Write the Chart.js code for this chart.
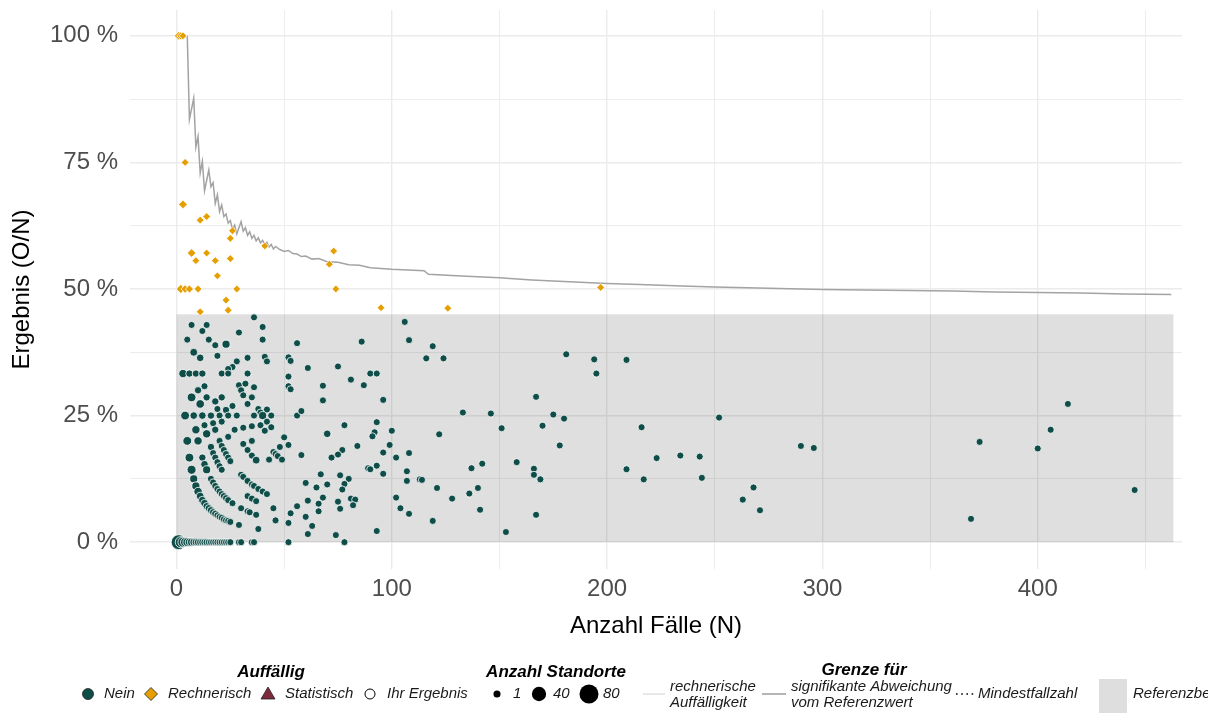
<!DOCTYPE html>
<html>
<head>
<meta charset="utf-8">
<script src="https://cdn.jsdelivr.net/npm/chart.js@4/dist/chart.umd.min.js"></script>
<style>
  html, body { margin: 0; padding: 0; background: #fff; }
  #c { display: block; }
</style>
</head>
<body>
<canvas id="c" width="1208" height="713"></canvas>
<script>
// --- Standorte ohne Auffälligkeit: Fälle (N), Ergebnis in %, Anzahl Standorte
const neinN = [
  1,2,3,4,5,6,7,8,9,10,11,12,13,14,15,16,17,18,19,20,21,22,23,24,25,29,30,35,36,52,78,
  4,5,6,7,8,9,10,11,12,13,14,15,16,17,18,19,20,21,22,23,24,25,29,38,3,
  6,7,8,9,10,12,13,14,16,17,18,19,20,21,22,23,24,26,30,33,34,37,46,52,
  8,9,10,11,12,13,14,16,17,18,19,20,21,33,35,37,45,53,
  16,17,18,20,21,22,23,24,25,30,31,33,35,36,38,40,42,56,
  36,7,14,12,40,29,5,15,18,23,40,56,11,19,28,33,41,42,52,53,26,24,12,21,24,33,52,61,
  29,32,36,52,53,13,14,18,21,30,31,33,35,19,23,26,38,39,42,20,24,28,36,40,44,56,
  21,27,31,35,39,41,42,44,24,31,33,35,37,35,43,45,46,47,49,48,50,52,
  106,108,86,119,116,124,75,90,93,81,87,68,68,96,58,133,146,93,78,70,100,92,91,122,
  84,99,77,75,72,58,96,108,102,93,89,90,96,107,107,113,114,137,142,67,76,80,78,77,
  60,65,70,68,61,66,75,76,81,83,82,66,60,63,61,74,93,102,104,108,119,128,136,140,141,121,
  181,194,195,209,167,151,175,180,170,178,216,252,158,166,166,169,167,153,209,217,223,234,243,244,268,263,271,290,296,
  414,406,373,400,445,369
];
const neinP = [
  0,0,0,0,0,0,0,0,0,0,0,0,0,0,0,0,0,0,0,0,0,0,0,0,0,0,0,0,0,0,0,
  25,20,16.7,14.3,12.5,11.1,10,9.1,8.3,7.7,7.1,6.7,6.3,5.9,5.6,5.3,5,4.8,4.5,4.3,4.2,4,3.4,2.6,33.3,
  33.3,28.6,25,22.2,20,16.7,15.4,14.3,12.5,11.8,11.1,10.5,10,9.5,9.1,8.7,8.3,7.7,6.7,6.1,5.9,5.4,4.3,3.8,
  37.5,33.3,30,27.3,25,23.1,21.4,18.8,17.6,16.7,15.8,15,14.3,9.1,8.6,8.1,6.7,5.7,
  25,23.5,22.2,20,19,18.2,17.4,16.7,16,13.3,12.9,12.1,11.4,11.1,10.5,10,9.5,7.1,
  44.4,42.9,42.9,41.7,42.5,41.4,40,40,38.9,39.1,40,39.3,36.4,36.8,35.7,36.4,36.6,35.7,36.5,35.8,34.6,34.2,33.3,33.3,33.3,33.3,32.7,34.4,
  31,31.3,30.6,30.8,30.2,30.8,28.6,27.8,28.6,30,29,27.3,28.6,26.3,26.1,26.9,26.3,25.6,26.2,25,25,25,25,25,25,25,
  23.8,22.2,22.6,22.9,23.1,22,23.8,22.7,20.8,19.4,18.2,17.1,16.2,20,16.3,17.8,17.4,17,16.3,18.8,20.7,19.2,
  43.5,39.9,39.6,38.7,36.3,36.3,34.7,33.3,33.3,32.1,31,30.9,28,28.1,25.9,25.6,25.4,23.7,23.1,21.4,22,21.7,20.9,21.3,
  19,19.2,18.2,17.3,16.7,17.2,17.7,17.6,16.7,15.1,14.6,14.4,13.5,14,12.1,12.4,12.3,14.6,15.5,13.4,13.2,12.5,11.5,10.4,
  11.7,10.8,11.4,8.8,8.2,7.6,8,6.6,8.6,8.4,7.3,6.1,5,3.2,1.6,1.4,2.2,8.8,6.7,5.6,4.2,8.6,9.6,10.7,6.4,10.7,
  37.1,36.1,33.3,36,28.7,22.5,25.2,24.4,23,19.1,22.7,24.6,15.8,14.5,13.3,12.4,5.4,2,14.4,12.4,16.6,17.1,16.9,12.7,10.8,8.4,6.3,19,18.6,
  27.3,22.2,19.8,18.5,10.3,4.6
];
const neinCount = [
  45,20,14,10,8,6,5,4,3,3,2,2,2,2,1,1,1,1,1,1,1,1,1,1,1,1,1,1,1,1,1,
  8,8,8,9,5,5,6,4,3,3,2,2,2,2,2,1,1,1,1,1,1,1,1,1,6,
  2,8,3,6,6,2,3,5,1,1,1,1,1,1,1,1,1,1,1,1,1,1,1,1,
  4,2,2,7,3,1,6,2,1,1,1,1,1,1,1,1,1,1,
  2,1,2,1,1,1,1,1,1,1,1,1,1,1,1,1,1,1,
  1,1,1,1,1,1,1,1,1,5,1,1,3,1,1,1,1,1,1,1,1,1,2,1,1,1,1,1,
  1,1,1,1,1,1,2,2,2,1,1,1,1,1,2,1,1,1,1,1,1,1,1,5,1,1,
  1,1,1,1,1,1,1,1,1,1,1,1,4,1,1,1,1,1,1,1,1,1,
  1,1,1,1,1,1,1,1,1,1,1,1,1,1,1,1,1,1,1,3,1,1,1,1,
  1,1,1,1,1,1,1,1,1,1,1,1,1,1,1,1,1,1,1,1,1,1,1,1,
  1,1,1,1,1,1,1,1,1,1,1,1,1,1,1,1,1,1,1,1,1,1,1,1,1,1,
  1,1,1,1,1,1,1,1,1,1,1,1,1,1,1,1,1,1,1,1,1,1,1,1,1,1,1,1,1,
  1,1,1,1,1,1
];

// --- rechnerisch auffällige Standorte
const rechN = [1,2,3,4,3,11,14,26,25,41,73,71,74,7,14,9,18,25,19,2,4,6,10,28,23,11,24,95,126,197];
const rechP = [100,100,100,75,66.7,63.6,64.3,61.5,60,58.5,57.5,54.9,50,57.1,57.1,55.6,55.6,56,52.6,50,50,50,50,50,47.8,45.5,45.8,46.3,46.2,50.3];
const rechCount = [4,2,1,1,4,1,1,1,1,1,1,1,1,4,1,1,1,1,1,6,3,2,1,1,1,1,1,1,1,1];

// --- Grenze für signifikante Abweichung vom Referenzwert
const grenzeN = [5,6,8,9,10,11,12,13,15,16,17,18,19,20,21,22,23,24,25,26,27,28,30,31,32,33,34,35,36,37,38,39,40,41,42,43,44,45,46,48,50,52,54,56,58,60,63,66,70,75,80,85,90,100,110,115,117,130,150,165,180,200,215,235,250,270,300,320,340,360,380,400,420,440,462];
const grenzeP = [100,83.5,87.7,78,80.1,72.9,75.2,69.4,73.5,70.2,71,66.9,68.6,65.3,66.6,64.3,64.8,63,63.5,61.8,62.6,60.9,63.3,61.4,62.1,60.6,61.3,60,60.6,59.5,60.1,59.1,59.6,58.7,59.2,58.3,58.8,57.9,58.4,57.8,57.4,57.6,57,56.9,56.4,56.5,55.9,56,55.4,55.3,54.8,54.7,54.2,53.9,53.7,53.6,52.9,52.6,52.2,51.8,51.5,51.1,50.9,50.6,50.4,50.2,49.9,49.8,49.7,49.6,49.4,49.3,49.2,49.0,48.9];

// --- Referenzbereich und Achsen
const refBereich = [0, 45];
const refFaelle = [0, 463];
const xTicks = [0, 50, 100, 150, 200, 250, 300, 350, 400, 450];
const yTicks = [0, 12.5, 25, 37.5, 50, 62.5, 75, 87.5, 100];

const GREEN = '#0f4d49';
const ORANGE = '#e69f00';
const FONT = '"Liberation Sans", Arial, Helvetica, sans-serif';

function sizeToRadius(n) {
  return Math.sqrt(50 + 311 * (n - 1) / 79) / 2;
}

const refRect = {
  id: 'refRect',
  beforeDatasetsDraw(chart) {
    const { ctx, scales: { x, y } } = chart;
    const x0 = x.getPixelForValue(refFaelle[0]);
    const x1 = x.getPixelForValue(refFaelle[1]);
    const y0 = y.getPixelForValue(refBereich[1]);
    const y1 = y.getPixelForValue(refBereich[0]);
    ctx.save();
    ctx.fillStyle = 'rgba(0,0,0,0.125)';
    ctx.fillRect(x0, y0, x1 - x0, y1 - y0);
    ctx.restore();
  }
};

const legendBlock = {
  id: 'legendBlock',
  afterDraw(chart) {
    const ctx = chart.ctx;
    const y = 694;
    ctx.save();
    ctx.textBaseline = 'middle';
    ctx.fillStyle = '#000';
    ctx.font = 'italic bold 17px ' + FONT;
    ctx.textAlign = 'center';
    ctx.fillText('Auffällig', 271, 672);
    ctx.fillText('Anzahl Standorte', 556, 672);
    ctx.fillText('Grenze für', 864, 670);

    // Auffällig
    ctx.lineWidth = 0.8;
    ctx.strokeStyle = '#222';
    ctx.beginPath(); ctx.arc(88, y, 5.5, 0, Math.PI * 2);
    ctx.fillStyle = GREEN; ctx.fill(); ctx.stroke();

    ctx.beginPath();
    ctx.moveTo(151, y - 6.5); ctx.lineTo(157.5, y); ctx.lineTo(151, y + 6.5); ctx.lineTo(144.5, y);
    ctx.closePath(); ctx.fillStyle = ORANGE; ctx.fill(); ctx.stroke();

    ctx.beginPath();
    ctx.moveTo(268, y - 7); ctx.lineTo(275, y + 5); ctx.lineTo(261, y + 5);
    ctx.closePath(); ctx.fillStyle = '#7d2b3c'; ctx.fill(); ctx.stroke();

    ctx.beginPath(); ctx.arc(370, y, 5, 0, Math.PI * 2);
    ctx.fillStyle = '#fff'; ctx.fill(); ctx.lineWidth = 1; ctx.strokeStyle = '#000'; ctx.stroke();

    ctx.fillStyle = '#1a1a1a';
    ctx.font = 'italic 15px ' + FONT;
    ctx.textAlign = 'left';
    ctx.fillText('Nein', 104, y);
    ctx.fillText('Rechnerisch', 168, y);
    ctx.fillText('Statistisch', 285, y);
    ctx.fillText('Ihr Ergebnis', 387, y);

    // Anzahl Standorte
    ctx.fillStyle = '#000';
    [[497, 1], [539, 40], [589, 80]].forEach(([px, n]) => {
      ctx.beginPath(); ctx.arc(px, y, sizeToRadius(n), 0, Math.PI * 2); ctx.fill();
    });
    ctx.fillStyle = '#1a1a1a';
    ctx.fillText('1', 513, y);
    ctx.fillText('40', 553, y);
    ctx.fillText('80', 603, y);

    // Grenze für
    ctx.lineWidth = 1.6;
    ctx.strokeStyle = '#e2e2e2';
    ctx.beginPath(); ctx.moveTo(643, y); ctx.lineTo(665, y); ctx.stroke();
    ctx.strokeStyle = '#a3a3a3';
    ctx.beginPath(); ctx.moveTo(762, y); ctx.lineTo(786, y); ctx.stroke();
    ctx.strokeStyle = '#000';
    ctx.setLineDash([1.6, 3.6]);
    ctx.beginPath(); ctx.moveTo(956, y); ctx.lineTo(975, y); ctx.stroke();
    ctx.setLineDash([]);

    ctx.fillText('rechnerische', 670, 687);
    ctx.fillText('Auffälligkeit', 670, 703);
    ctx.fillText('signifikante Abweichung', 791, 687);
    ctx.fillText('vom Referenzwert', 791, 703);
    ctx.fillText('Mindestfallzahl', 978, y);

    ctx.fillStyle = '#dedede';
    ctx.fillRect(1099, 679, 28, 40);
    ctx.fillStyle = '#1a1a1a';
    ctx.fillText('Referenzbereich', 1133, y);
    ctx.restore();
  }
};

const neinData = neinN.map((n, i) => ({ x: n, y: neinP[i] }));
const rechData = rechN.map((n, i) => ({ x: n, y: rechP[i] }));
const grenzeData = grenzeN.map((n, i) => ({ x: n, y: grenzeP[i] }));

const gridColor = '#ebebeb';

new Chart(document.getElementById('c'), {
  type: 'scatter',
  data: {
    datasets: [
      {
        label: 'signifikante Abweichung',
        data: grenzeData,
        showLine: true,
        borderColor: '#a3a3a3',
        borderWidth: 1.5,
        pointRadius: 0,
        tension: 0,
        order: 3
      },
      {
        label: 'Nein',
        data: neinData,
        backgroundColor: GREEN,
        borderColor: '#ffffff',
        borderWidth: 0.8,
        pointRadius: ctx => sizeToRadius(neinCount[ctx.dataIndex]),
        order: 2
      },
      {
        label: 'Rechnerisch',
        data: rechData,
        pointStyle: 'rectRot',
        backgroundColor: ORANGE,
        borderColor: '#ffffff',
        borderWidth: 0.8,
        pointRadius: ctx => sizeToRadius(rechCount[ctx.dataIndex]) * 1.1,
        order: 1
      }
    ]
  },
  options: {
    responsive: false,
    animation: false,
    layout: { padding: { left: 0, right: 26, top: 10, bottom: 68 } },
    plugins: { legend: { display: false }, tooltip: { enabled: false } },
    scales: {
      x: {
        type: 'linear',
        min: -21.6,
        max: 467,
        afterBuildTicks: s => { s.ticks = xTicks.map(v => ({ value: v })); },
        afterFit: s => { s.height = 76; s.paddingLeft = 0; s.paddingRight = 0; },
        border: { display: false },
        grid: {
          color: gridColor,
          lineWidth: c => (c.tick && c.tick.value % 100 === 0) ? 1.4 : 0.9,
          drawTicks: false
        },
        ticks: {
          padding: 6,
          color: '#4d4d4d',
          font: { family: FONT, size: 24 },
          autoSkip: false,
          maxRotation: 0,
          callback: v => (v % 100 === 0 ? String(v) : '')
        },
        title: {
          display: true,
          text: 'Anzahl Fälle (N)',
          color: '#000',
          font: { family: FONT, size: 24 },
          padding: { top: 4, bottom: 4 }
        }
      },
      y: {
        type: 'linear',
        min: -5.3,
        max: 105.1,
        afterBuildTicks: s => { s.ticks = yTicks.map(v => ({ value: v })); },
        afterFit: s => { s.width = 130; s.paddingTop = 0; s.paddingBottom = 0; },
        border: { display: false },
        grid: {
          color: gridColor,
          lineWidth: c => (c.tick && c.tick.value % 25 === 0) ? 1.4 : 0.9,
          drawTicks: false
        },
        ticks: {
          padding: 12,
          color: '#4d4d4d',
          font: { family: FONT, size: 24 },
          autoSkip: false,
          callback: v => (v % 25 === 0 ? v + ' %' : '')
        },
        title: {
          display: true,
          text: 'Ergebnis (O/N)',
          color: '#000',
          font: { family: FONT, size: 24 },
          padding: { top: 8, bottom: 4 }
        }
      }
    }
  },
  plugins: [refRect, legendBlock]
});
</script>
</body>
</html>
